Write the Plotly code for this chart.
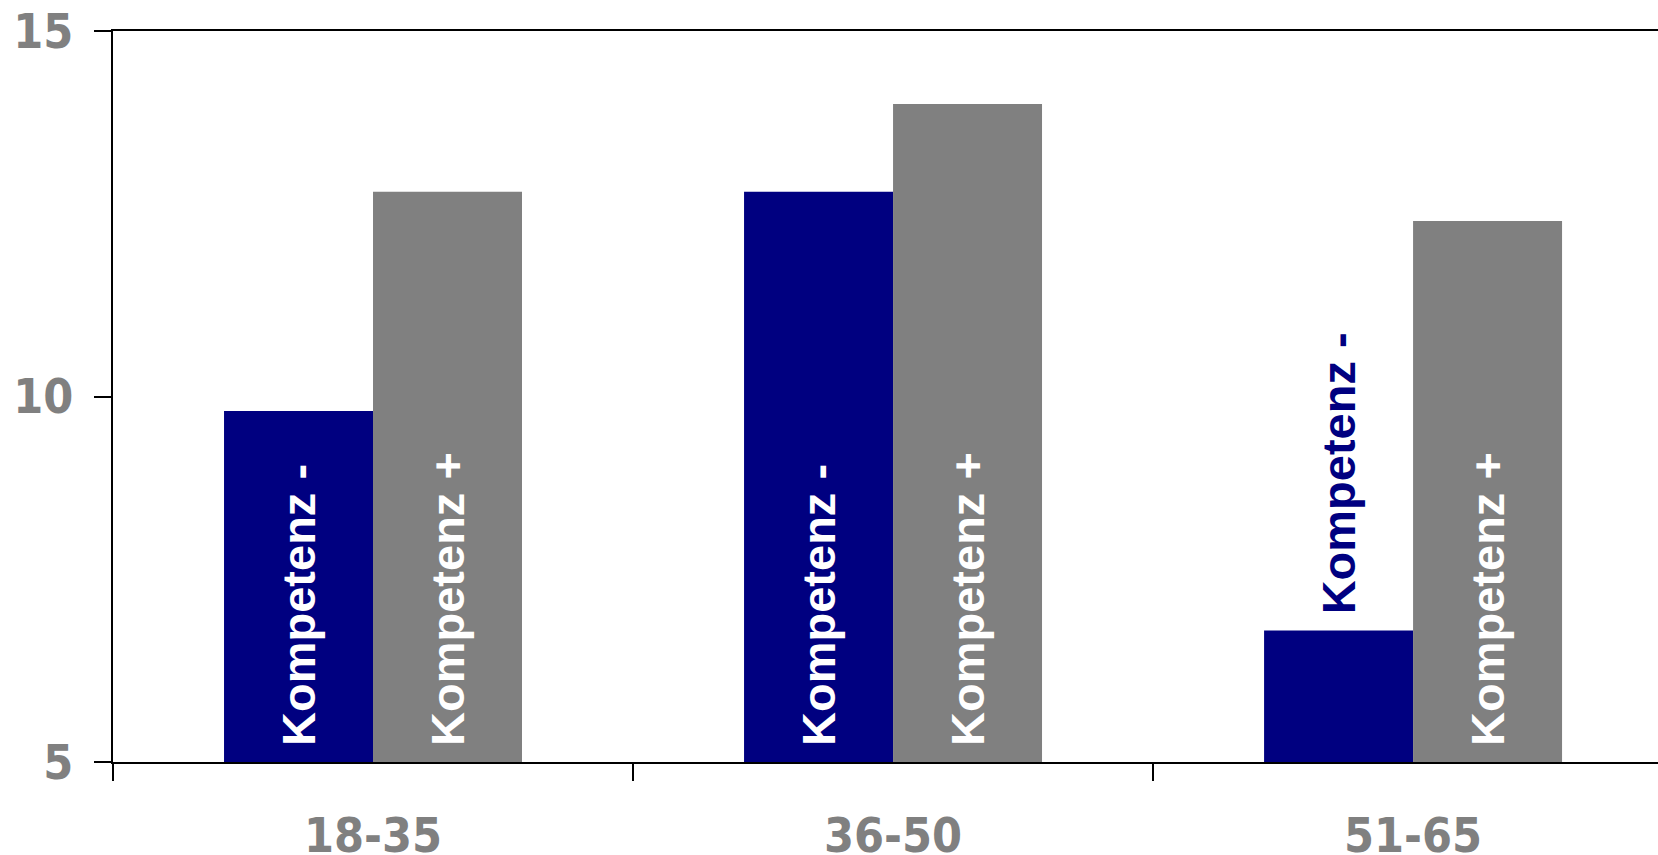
import plotly.graph_objects as go

categories = ["18-35", "36-50", "51-65"]
komp_minus = [9.8, 12.8, 6.8]
komp_plus = [12.8, 14.0, 12.4]
label_minus = "\u00a0Kompetenz -"
label_plus = "\u00a0Kompetenz +"
y_ticks = [5, 10, 15]
AXIS_MIN = 5
AXIS_MAX = 15

NAVY = "#000080"
GREY = "#808080"
LABEL_FONT = "Liberation Sans, Arial, sans-serif"
TICK_FONT = "DejaVu Sans Condensed, DejaVu Sans, Verdana, sans-serif"

# Bars start at the axis minimum (as in the original chart)
fig = go.Figure()
fig.add_trace(go.Bar(
    x=categories, y=[v - AXIS_MIN for v in komp_minus], base=AXIS_MIN,
    name="Kompetenz -",
    marker=dict(color=NAVY, line=dict(width=0)),
    text=[label_minus] * len(categories),
    textposition=["inside", "inside", "outside"],
    insidetextanchor="start",
    textangle=-90,
    constraintext="none",
    textfont=dict(family=LABEL_FONT, size=47, color="white", weight="bold"),
    insidetextfont=dict(family=LABEL_FONT, size=47, color="white", weight="bold"),
    outsidetextfont=dict(family=LABEL_FONT, size=47, color=NAVY, weight="bold"),
    cliponaxis=False,
))
fig.add_trace(go.Bar(
    x=categories, y=[v - AXIS_MIN for v in komp_plus], base=AXIS_MIN,
    name="Kompetenz +",
    marker=dict(color=GREY, line=dict(width=0)),
    text=[label_plus] * len(categories),
    textposition="inside",
    insidetextanchor="start",
    textangle=-90,
    constraintext="none",
    textfont=dict(family=LABEL_FONT, size=47, color="white", weight="bold"),
    insidetextfont=dict(family=LABEL_FONT, size=47, color="white", weight="bold"),
))

fig.update_layout(
    width=1658, height=855,
    margin=dict(l=113, r=0, t=31, b=93, pad=0),
    paper_bgcolor="white", plot_bgcolor="white",
    barmode="group", bargap=0.427, bargroupgap=0,
    showlegend=False,
    xaxis=dict(
        type="category", range=[-0.5, 2.471], automargin=False,
        tickson="boundaries", ticks="outside", ticklen=17, tickwidth=2, tickcolor="black",
        showline=True, linewidth=2, linecolor="black", mirror=True,
        showgrid=False, zeroline=False,
        tickfont=dict(family=TICK_FONT, size=48, color=GREY, weight="bold"),
        ticklabelstandoff=30, ticklabeloverflow="allow",
    ),
    yaxis=dict(
        range=[AXIS_MIN, AXIS_MAX], tickvals=y_ticks, ticktext=[str(v) for v in y_ticks],
        automargin=False,
        ticks="outside", ticklen=17, tickwidth=2, tickcolor="black",
        showline=True, linewidth=2, linecolor="black",
        showgrid=False, zeroline=False,
        tickfont=dict(family=TICK_FONT, size=48, color=GREY, weight="bold"),
        ticklabelstandoff=11, ticklabeloverflow="allow",
    ),
)

fig.write_html(
    "out.html",
    config={"displayModeBar": False},
    post_script="document.body.style.margin='0';document.body.style.overflow='hidden';",
)
